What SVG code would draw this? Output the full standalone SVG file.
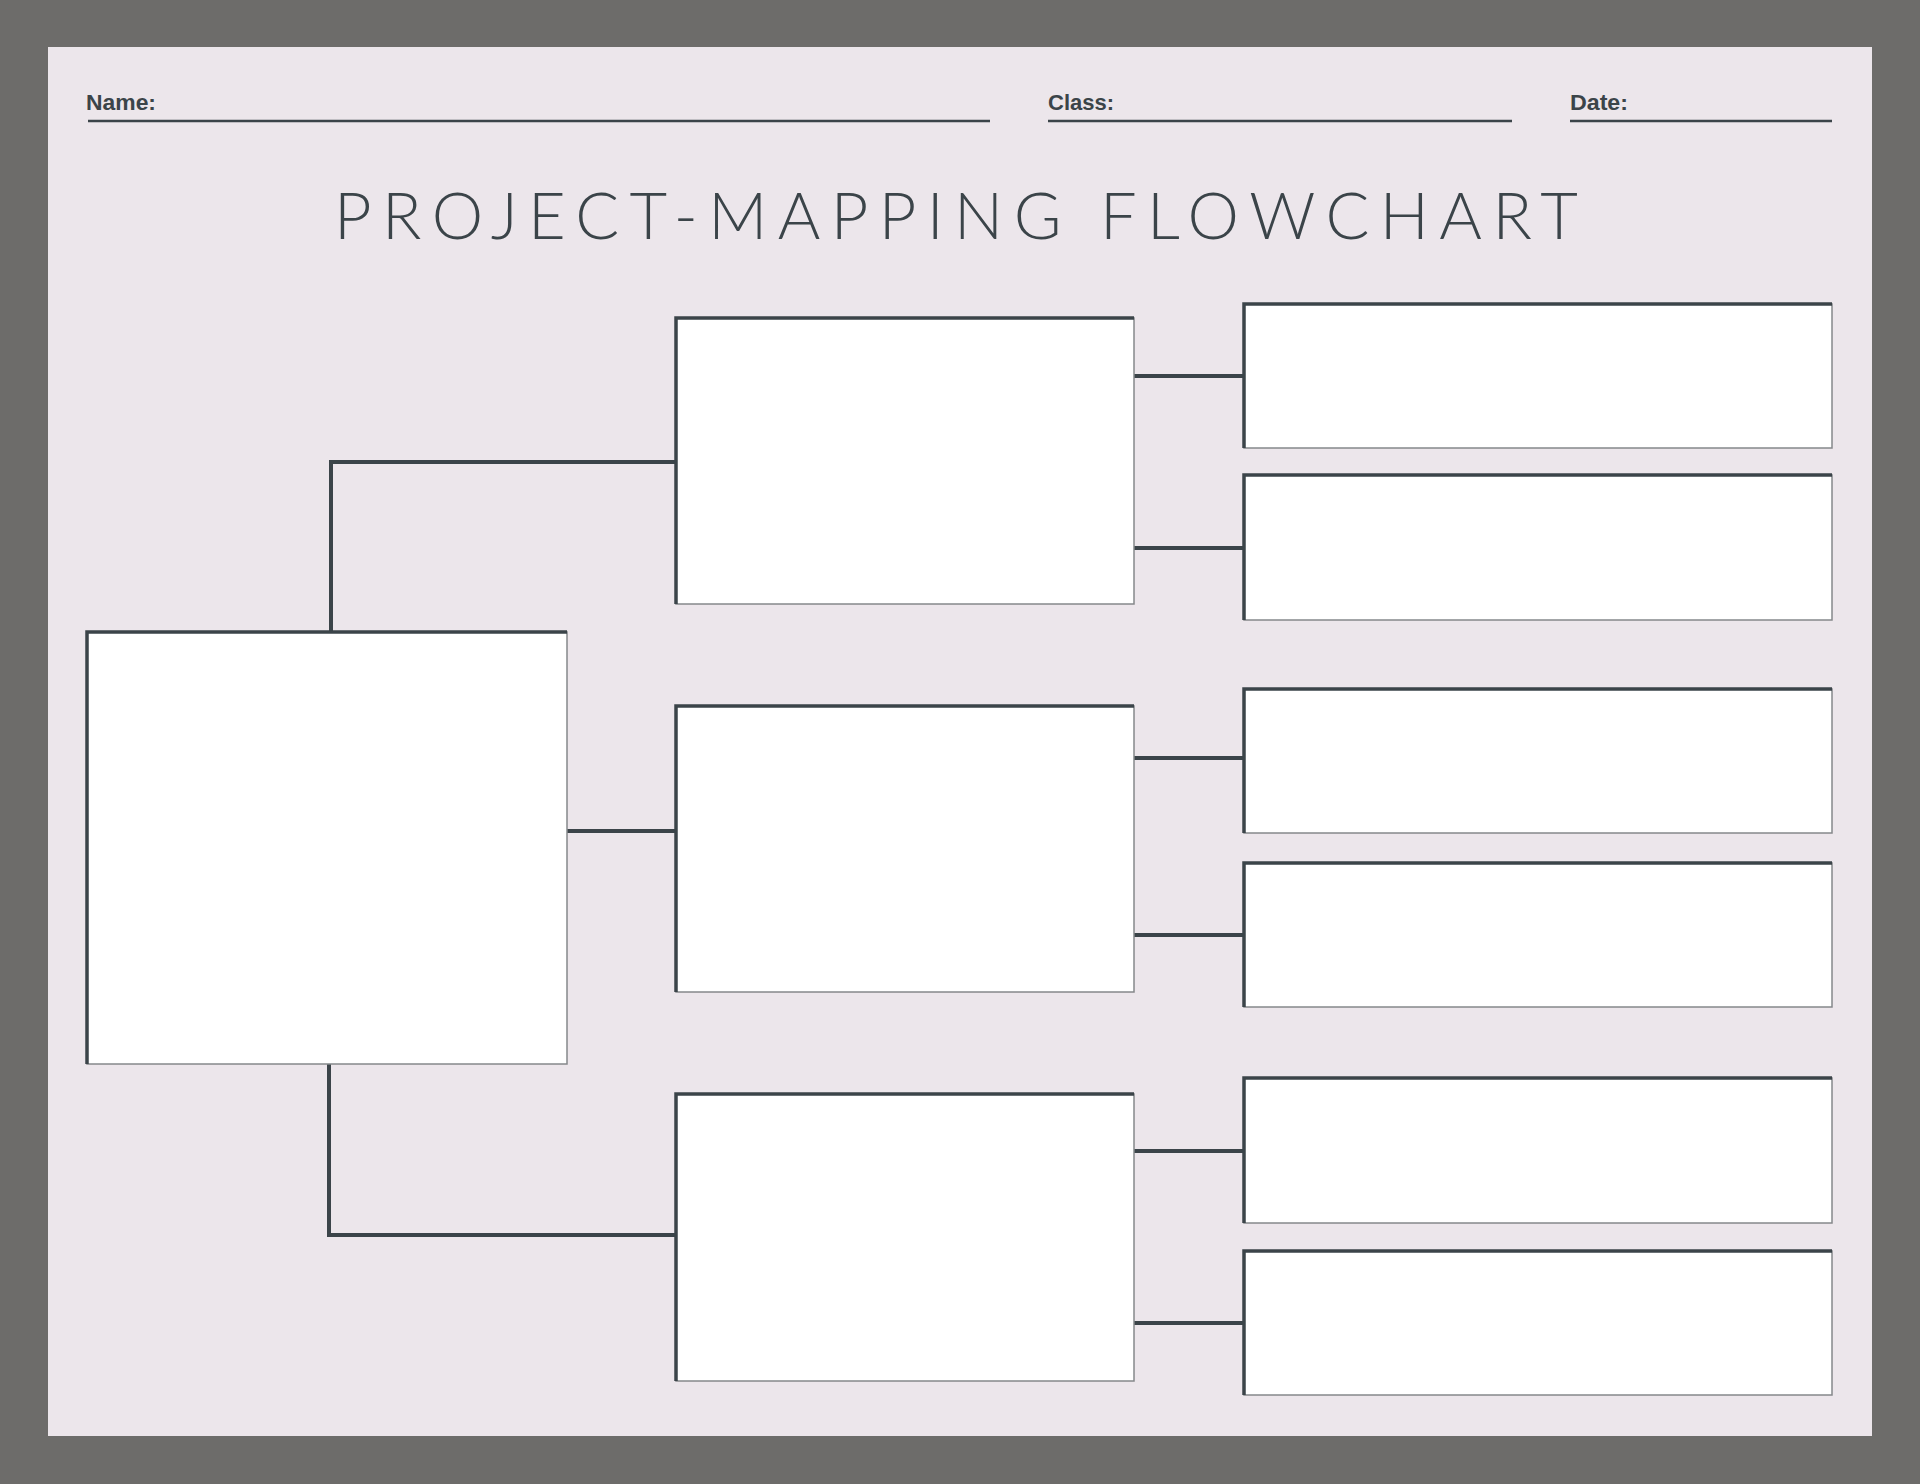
<svg xmlns="http://www.w3.org/2000/svg" width="1920" height="1484" viewBox="0 0 1920 1484">
<style>
.lbl{font-family:"Liberation Sans",Arial,sans-serif;font-weight:bold;font-size:22px;fill:#3b4449}
.title{font-family:Lato,"Liberation Sans",sans-serif;font-weight:300;font-size:65px;fill:#3b4449}
.rule{stroke:#3b4449;stroke-width:2.5;fill:none}
.box rect{fill:#ffffff;stroke:#85888b;stroke-width:1.5}
.box path{fill:none;stroke:#3b4449;stroke-width:3.5}
.conn path{fill:none;stroke:#3b4449;stroke-width:4}
</style>
<rect x="0" y="0" width="1920" height="1484" fill="#6d6c6a"/>
<rect id="page" x="48" y="47" width="1824" height="1389" fill="#ece6eb"/>
<g id="header">
<text class="lbl" x="86" y="110" textLength="70" lengthAdjust="spacingAndGlyphs">Name:</text>
<line class="rule" x1="88" y1="121" x2="990" y2="121"/>
<text class="lbl" x="1048" y="110" textLength="66" lengthAdjust="spacingAndGlyphs">Class:</text>
<line class="rule" x1="1048" y1="121" x2="1512" y2="121"/>
<text class="lbl" x="1570" y="110" textLength="58" lengthAdjust="spacingAndGlyphs">Date:</text>
<line class="rule" x1="1570" y1="121" x2="1832" y2="121"/>
</g>
<text id="title" class="title" x="334" y="239" textLength="1244" lengthAdjust="spacing">PROJECT-MAPPING FLOWCHART</text>
<g id="connectors" class="conn">
<path d="M331 632 V462 H676"/>
<path d="M567 831 H676"/>
<path d="M329 1064 V1235 H676"/>
<path d="M1134 376 H1244"/>
<path d="M1134 548 H1244"/>
<path d="M1134 758 H1244"/>
<path d="M1134 935 H1244"/>
<path d="M1134 1151 H1244"/>
<path d="M1134 1323 H1244"/>
</g>
<g id="node-main" class="box"><rect x="87" y="632" width="480" height="432"/><path d="M87 1064 V632 H567"/></g>
<g id="node-mid1" class="box"><rect x="676" y="318" width="458" height="286"/><path d="M676 604 V318 H1134"/></g>
<g id="node-mid2" class="box"><rect x="676" y="706" width="458" height="286"/><path d="M676 992 V706 H1134"/></g>
<g id="node-mid3" class="box"><rect x="676" y="1094" width="458" height="287"/><path d="M676 1381 V1094 H1134"/></g>
<g id="node-r1" class="box"><rect x="1244" y="304" width="588" height="144"/><path d="M1244 448 V304 H1832"/></g>
<g id="node-r2" class="box"><rect x="1244" y="475" width="588" height="145"/><path d="M1244 620 V475 H1832"/></g>
<g id="node-r3" class="box"><rect x="1244" y="689" width="588" height="144"/><path d="M1244 833 V689 H1832"/></g>
<g id="node-r4" class="box"><rect x="1244" y="863" width="588" height="144"/><path d="M1244 1007 V863 H1832"/></g>
<g id="node-r5" class="box"><rect x="1244" y="1078" width="588" height="145"/><path d="M1244 1223 V1078 H1832"/></g>
<g id="node-r6" class="box"><rect x="1244" y="1251" width="588" height="144"/><path d="M1244 1395 V1251 H1832"/></g>
</svg>
